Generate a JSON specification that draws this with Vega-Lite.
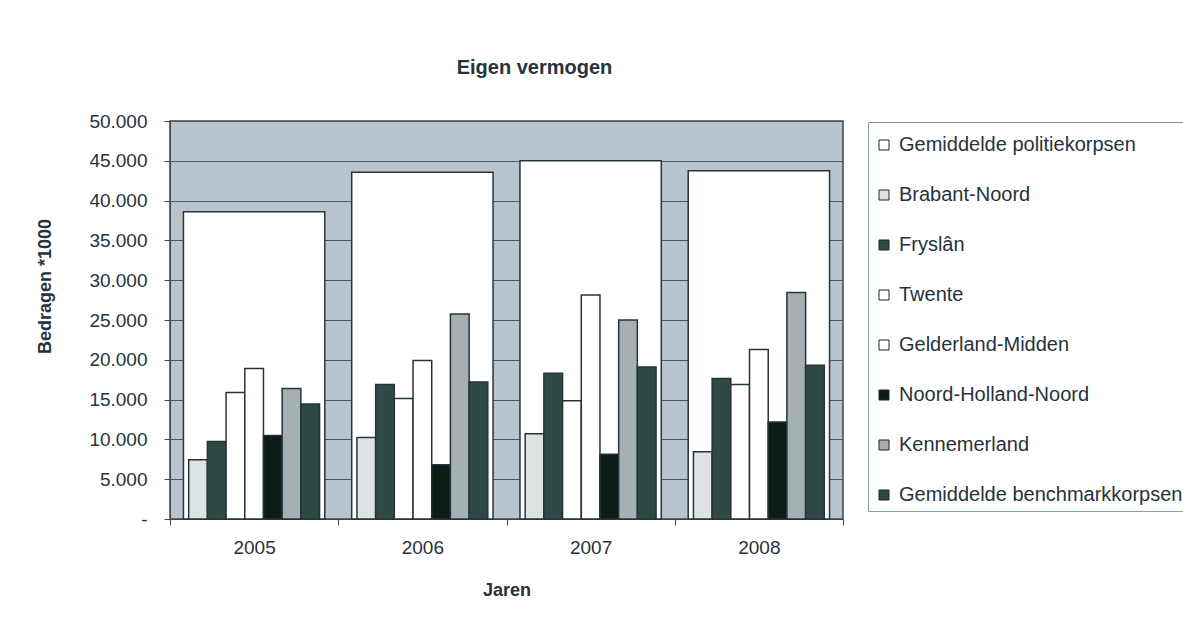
{
  "$schema": "https://vega.github.io/schema/vega-lite/v6.json",
  "width": 673,
  "height": 398,
  "autosize": {"type": "none"},
  "padding": {"left": 170, "top": 121, "right": 340, "bottom": 105},
  "background": "white",
  "title": {
    "text": "Eigen vermogen",
    "fontSize": 20,
    "fontWeight": "bold",
    "font": "Liberation Sans",
    "color": "#26323c",
    "dx": 28,
    "offset": 34
  },
  "data": {
    "values": [
      {"jaar": "2005", "reeks": "Gemiddelde politiekorpsen", "waarde": 38600},
      {"jaar": "2005", "reeks": "Brabant-Noord", "waarde": 7450},
      {"jaar": "2005", "reeks": "Fryslân", "waarde": 9750},
      {"jaar": "2005", "reeks": "Twente", "waarde": 15900},
      {"jaar": "2005", "reeks": "Gelderland-Midden", "waarde": 18900},
      {"jaar": "2005", "reeks": "Noord-Holland-Noord", "waarde": 10500},
      {"jaar": "2005", "reeks": "Kennemerland", "waarde": 16400},
      {"jaar": "2005", "reeks": "Gemiddelde benchmarkkorpsen", "waarde": 14450},
      {"jaar": "2006", "reeks": "Gemiddelde politiekorpsen", "waarde": 43550},
      {"jaar": "2006", "reeks": "Brabant-Noord", "waarde": 10250},
      {"jaar": "2006", "reeks": "Fryslân", "waarde": 16900},
      {"jaar": "2006", "reeks": "Twente", "waarde": 15150},
      {"jaar": "2006", "reeks": "Gelderland-Midden", "waarde": 19900},
      {"jaar": "2006", "reeks": "Noord-Holland-Noord", "waarde": 6800},
      {"jaar": "2006", "reeks": "Kennemerland", "waarde": 25750},
      {"jaar": "2006", "reeks": "Gemiddelde benchmarkkorpsen", "waarde": 17200},
      {"jaar": "2007", "reeks": "Gemiddelde politiekorpsen", "waarde": 45000},
      {"jaar": "2007", "reeks": "Brabant-Noord", "waarde": 10700},
      {"jaar": "2007", "reeks": "Fryslân", "waarde": 18300},
      {"jaar": "2007", "reeks": "Twente", "waarde": 14850},
      {"jaar": "2007", "reeks": "Gelderland-Midden", "waarde": 28150},
      {"jaar": "2007", "reeks": "Noord-Holland-Noord", "waarde": 8150},
      {"jaar": "2007", "reeks": "Kennemerland", "waarde": 25000},
      {"jaar": "2007", "reeks": "Gemiddelde benchmarkkorpsen", "waarde": 19100},
      {"jaar": "2008", "reeks": "Gemiddelde politiekorpsen", "waarde": 43750},
      {"jaar": "2008", "reeks": "Brabant-Noord", "waarde": 8450},
      {"jaar": "2008", "reeks": "Fryslân", "waarde": 17650},
      {"jaar": "2008", "reeks": "Twente", "waarde": 16900},
      {"jaar": "2008", "reeks": "Gelderland-Midden", "waarde": 21300},
      {"jaar": "2008", "reeks": "Noord-Holland-Noord", "waarde": 12200},
      {"jaar": "2008", "reeks": "Kennemerland", "waarde": 28450},
      {"jaar": "2008", "reeks": "Gemiddelde benchmarkkorpsen", "waarde": 19300}
    ]
  },
  "encoding": {
    "x": {
      "field": "jaar",
      "type": "nominal",
      "scale": {"paddingInner": 0, "paddingOuter": 0},
      "axis": {
        "title": "Jaren",
        "labelAngle": 0,
        "labelFontSize": 19,
        "labelPadding": 13,
        "tickBand": "extent",
        "tickSize": 6,
        "titleY": 71,
        "titleBaseline": "middle"
      }
    },
    "y": {
      "field": "waarde",
      "type": "quantitative",
      "scale": {"domain": [0, 50000], "nice": false},
      "axis": {
        "title": "Bedragen *1000",
        "values": [0, 5000, 10000, 15000, 20000, 25000, 30000, 35000, 40000, 45000, 50000],
        "labelExpr": "datum.value == 0 ? '-' : replace(format(datum.value, ','), ',', '.')",
        "labelFontSize": 19,
        "labelPadding": 17,
        "tickSize": 6,
        "titleX": -125,
        "titleY": 165,
        "titleAngle": -90,
        "titleAlign": "center",
        "titleBaseline": "middle"
      }
    },
    "color": {
      "field": "reeks",
      "type": "nominal",
      "scale": {
        "domain": ["Gemiddelde politiekorpsen", "Brabant-Noord", "Fryslân", "Twente", "Gelderland-Midden", "Noord-Holland-Noord", "Kennemerland", "Gemiddelde benchmarkkorpsen"],
        "range": ["#ffffff", "#dde2e3", "#2f4a44", "#ffffff", "#ffffff", "#0e1c17", "#a4b0b2", "#2c4842"]
      },
      "legend": {
        "title": " ",
        "titleFontSize": 7,
        "titlePadding": 0,
        "orient": "none",
        "legendX": 698,
        "legendY": 1,
        "symbolType": "square",
        "symbolSize": 100,
        "symbolStrokeColor": "#222222",
        "symbolStrokeWidth": 1,
        "labelFontSize": 20,
        "labelOffset": 5,
        "rowPadding": 30,
        "padding": 6,
        "strokeColor": "#8a9aa2",
        "fillColor": "white"
      }
    }
  },
  "layer": [
    {
      "transform": [{"filter": "datum.reeks == 'Gemiddelde politiekorpsen'"}],
      "mark": {"type": "bar", "width": {"band": 0.84}, "stroke": "#26343c", "strokeWidth": 1.5, "opacity": 1}
    },
    {
      "transform": [{"filter": "datum.reeks != 'Gemiddelde politiekorpsen'"}],
      "mark": {"type": "bar", "stroke": "#26343c", "strokeWidth": 1.5, "opacity": 1},
      "encoding": {
        "xOffset": {
          "field": "reeks",
          "type": "nominal",
          "scale": {
            "domain": ["Brabant-Noord", "Fryslân", "Twente", "Gelderland-Midden", "Noord-Holland-Noord", "Kennemerland", "Gemiddelde benchmarkkorpsen"],
            "paddingInner": 0,
            "paddingOuter": 2.33
          }
        }
      }
    }
  ],
  "config": {
    "font": "Liberation Sans",
    "view": {"fill": "#b9c4cc", "stroke": "#3a4850", "strokeWidth": 1.5},
    "axis": {
      "labelColor": "#26323c",
      "titleColor": "#26323c",
      "titleFontSize": 18,
      "titleFontWeight": "bold",
      "titleFont": "Liberation Sans",
      "labelFont": "Liberation Sans",
      "domainColor": "#3a4850",
      "tickColor": "#3a4850",
      "gridColor": "#4c5b63",
      "gridOpacity": 1,
      "gridWidth": 1
    },
    "axisX": {"grid": false},
    "axisY": {"grid": true},
    "legend": {"labelColor": "#26323c", "labelFont": "Liberation Sans", "labelLimit": 400}
  }
}
